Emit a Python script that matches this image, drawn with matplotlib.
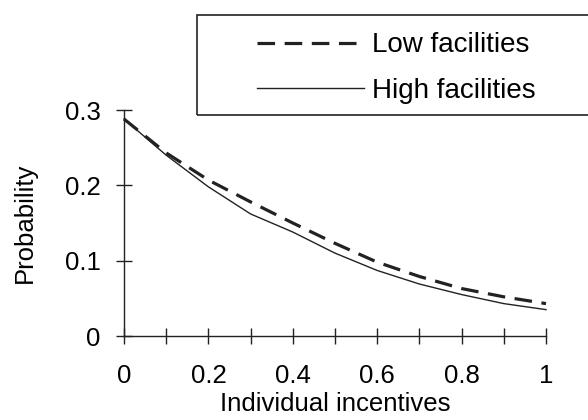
import matplotlib.pyplot as plt
from matplotlib.patches import Rectangle

plt.rcParams['font.family'] = ['Liberation Sans', 'DejaVu Sans']

incentives = [0.0, 0.1, 0.2, 0.3, 0.4, 0.5, 0.6, 0.7, 0.8, 0.9, 1.0]
low_fac = [0.288, 0.243, 0.207, 0.178, 0.150, 0.123, 0.098, 0.079, 0.063, 0.052, 0.043]
high_fac = [0.288, 0.240, 0.198, 0.162, 0.138, 0.110, 0.087, 0.069, 0.055, 0.043, 0.035]

x_ticks = [0.0, 0.1, 0.2, 0.3, 0.4, 0.5, 0.6, 0.7, 0.8, 0.9, 1.0]
x_ticklabels = ['0', '', '0.2', '', '0.4', '', '0.6', '', '0.8', '', '1']
y_ticks = [0.0, 0.1, 0.2, 0.3]
y_ticklabels = ['0', '0.1', '0.2', '0.3']

ink = '#222222'
fs = 18.5

fig = plt.figure(figsize=(5.88, 4.2), dpi=100)
ax = fig.add_axes([124/588, 1-336/420, (546-124)/588, (336-110)/420])

l1, = ax.plot(incentives, low_fac, color=ink, lw=2.3, dashes=(5.5, 3), label='Low facilities', clip_on=False)
l2, = ax.plot(incentives, high_fac, color=ink, lw=1.0, label='High facilities', clip_on=False)

ax.set_xlim(0, 1)
ax.set_ylim(0, 0.3)
ax.spines['top'].set_visible(False)
ax.spines['right'].set_visible(False)
for s in ['left', 'bottom']:
    ax.spines[s].set_color(ink)
    ax.spines[s].set_linewidth(1.0)

ax.set_xticks(x_ticks)
ax.set_xticklabels(x_ticklabels)
ax.set_yticks(y_ticks)
ax.set_yticklabels(y_ticklabels)
ax.tick_params(direction='inout', length=12, width=1.0, color=ink, labelsize=fs, labelcolor='black')
ax.tick_params(axis='x', pad=14)
ax.tick_params(axis='y', pad=11)

ax.set_xlabel('Individual incentives', fontsize=fs, labelpad=3)
ax.set_ylabel('Probability', fontsize=fs, labelpad=20)

# legend box runs past the right edge of the figure
fig.patches.append(Rectangle((197/588, 1-115/420), 0.8, 100/420, transform=fig.transFigure,
                             fill=False, edgecolor=ink, lw=1.2))
fig.legend(handles=[l1, l2], loc='center left', bbox_to_anchor=(232/588, 1-68/420),
           frameon=False, fontsize=20, handlelength=3.85, handletextpad=0.29,
           labelspacing=0.69)

fig.savefig('out.png', dpi=100)
